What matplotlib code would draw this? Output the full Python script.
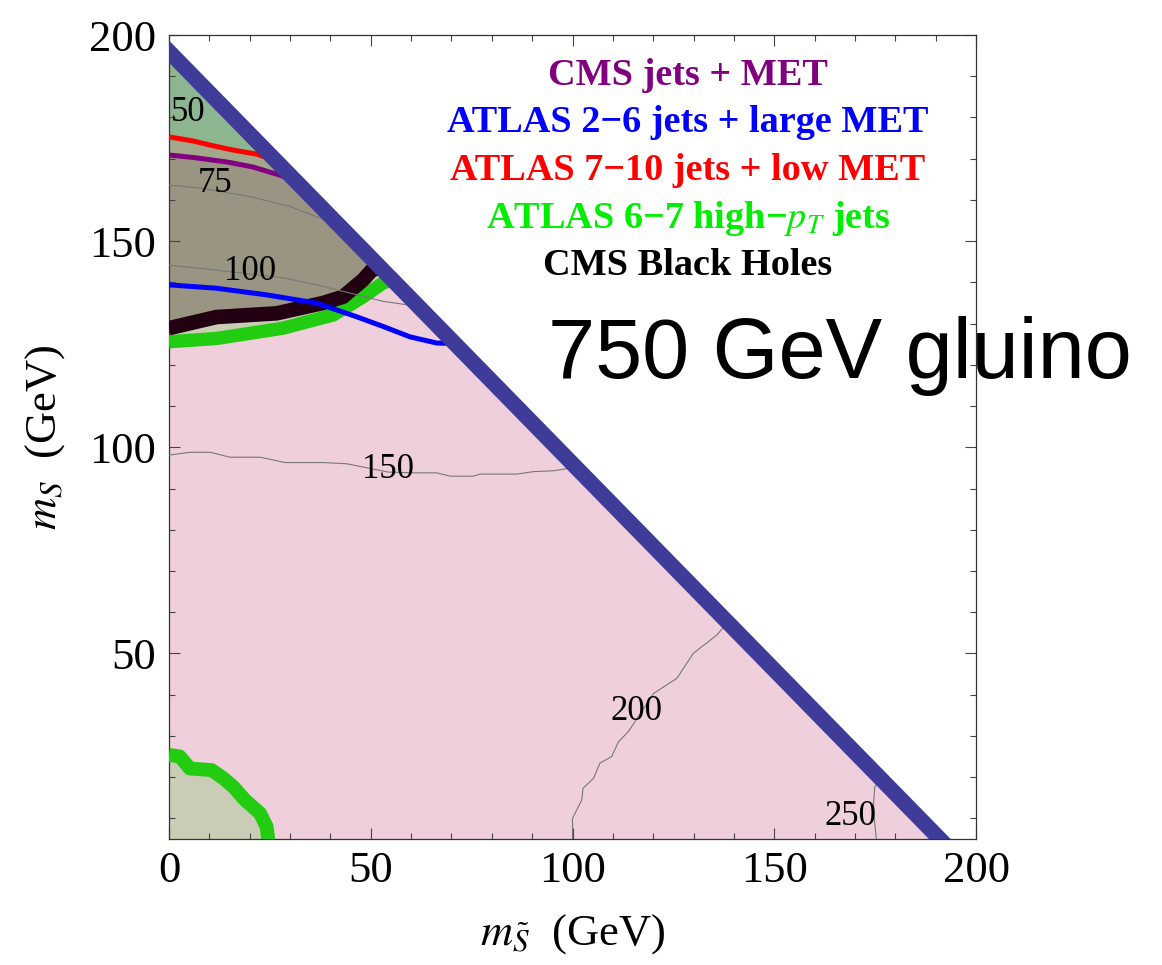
import matplotlib
matplotlib.use("Agg")
import matplotlib.pyplot as plt
from matplotlib import font_manager

plt.rcParams['mathtext.fontset'] = 'stix'
plt.rcParams['font.family'] = ['Liberation Serif', 'DejaVu Serif']

# kinematic edge (m_Stilde + m_S limit)
edge_x = [0, 191]
edge_y = [196, 5]

# exclusion curves
red_x = [0, 6, 10.2, 15.9, 21.8, 23.5]
red_y = [175.3, 174.3, 173.3, 172.1, 171.1, 170.5]
purple_x = [0, 6, 14.4, 20.8, 27.5, 29]
purple_y = [170.9, 170.3, 169.2, 168.0, 166.0, 165.5]
bh_x = [0, 11.8, 26.7, 38.2, 43.1, 48.1, 50.3, 52]
bh_y = [128.9, 131.6, 132.5, 135.0, 136.5, 140.6, 143.0, 143.5]
green_x = [0, 11.8, 28.3, 40.7, 48.1, 53.1, 55]
green_y = [125.6, 126.4, 128.9, 132.1, 136.5, 139.9, 140.5]
blue_x = [0, 11.6, 24, 36.5, 46.4, 53.1, 59.7, 66.3, 69.5]
blue_y = [139.4, 138.6, 137.0, 135.0, 131.7, 129.3, 126.8, 125.3, 125.2]
green_low_x = [0, 2.7, 5.2, 10.6, 13.5, 15.9, 18.8, 22.6, 24.2, 24.6, 24.8]
green_low_y = [25.4, 25.0, 22.1, 21.7, 19.7, 17.7, 14.5, 11.2, 8.0, 5.0, 2.0]

# gluino mass contours
c75_x = [0, 7.7, 20.1, 30, 36.6, 38.5]
c75_y = [163.6, 162.9, 160.8, 158.4, 155.9, 155.3]
c100_x = [0, 7.7, 15.2, 28.3, 36.6, 44.9, 53.1, 59.5]
c100_y = [144.2, 143.4, 142.6, 141.1, 139.4, 137.4, 135.4, 134.5]
c150_x = [0, 5.2, 10.2, 15.1, 22.6, 28.8, 38.2, 44.1, 54.3, 60.6, 66.4, 69.7, 75.4, 77.1, 86.2, 90.3, 95.2, 98.5]
c150_y = [98.1, 98.8, 98.8, 97.6, 97.6, 96.3, 96.3, 96.0, 94.0, 93.8, 93.8, 93.0, 93.0, 93.5, 93.5, 94.1, 94.3, 94.8]
c200_x = [100.0, 100.0, 102.3, 102.6, 105.2, 106.8, 109.7, 111.4, 113.8, 120.1, 125.9, 129.9, 135.8, 137.5]
c200_y = [4.0, 10.0, 14.5, 17.3, 19.7, 23.4, 25.0, 28.6, 31.0, 40.3, 44.0, 50.0, 54.5, 56.5]
c250_x = [175.4, 174.8, 174.6, 174.9, 175.6]
c250_y = [4.0, 9.6, 13.7, 17.7, 18.5]

contour_labels = ["50", "75", "100", "150", "200", "250"]
contour_lab_x = [4.7, 11.4, 20.1, 54.3, 115.9, 168.8]
contour_lab_y = [181.1, 164.0, 142.6, 94.5, 35.9, 10.4]

legend_texts = ["CMS jets + MET", "ATLAS 2\u22126 jets + large MET",
                "ATLAS 7\u221210 jets + low MET",
                "ATLAS 6\u22127 high\u2212$p_T$ jets", "CMS Black Holes"]
legend_colors = ["#800080", "#0000ff", "#ff0000", "#00ee00", "#000000"]

fig = plt.figure(figsize=(11.62, 9.65), dpi=100)
ax = fig.add_axes([0.1454, 0.1306, 0.6946, 0.8331])

# shaded regions
ax.fill_between(edge_x, edge_y[1], edge_y, color="#f0cfdd", lw=0, zorder=1)
ax.fill(green_x + [0], green_y + [edge_y[0]], color="#c9cdb6", lw=0, zorder=1.1)
ax.fill(bh_x + [0], bh_y + [edge_y[0]], color="#9a9482", lw=0, zorder=1.2)
ax.fill(purple_x + [0], purple_y + [edge_y[0]], color="#a4a88a", lw=0, zorder=1.3)
ax.fill(red_x + [0], red_y + [edge_y[0]], color="#8db690", lw=0, zorder=1.4)
ax.fill(green_low_x + [0], green_low_y + [edge_y[1]], color="#cacdb5", lw=0, zorder=1.1)

# exclusion lines
kw = dict(solid_capstyle="butt", solid_joinstyle="round")
ax.plot(green_x, green_y, color="#22cc11", lw=9.6, zorder=3, **kw)
ax.plot(green_low_x, green_low_y, color="#22cc11", lw=10, zorder=3, **kw)
ax.plot(bh_x, bh_y, color="#220011", lw=10.5, zorder=3.1, **kw)
ax.plot(blue_x, blue_y, color="#0000ff", lw=3.6, zorder=3.2, **kw)
ax.plot(red_x, red_y, color="#ff0000", lw=3.6, zorder=3.2, **kw)
ax.plot(purple_x, purple_y, color="#800080", lw=3.6, zorder=3.2, **kw)

# gluino mass contours
for cx, cy in [(c75_x, c75_y), (c100_x, c100_y), (c150_x, c150_y),
               (c200_x, c200_y), (c250_x, c250_y)]:
    ax.plot(cx, cy, color="#777777", lw=0.8, zorder=3.5)
for lab, lx, ly in zip(contour_labels, contour_lab_x, contour_lab_y):
    ax.text(lx, ly, lab, fontsize=25, ha="center", va="center", zorder=5)

# kinematic edge
ax.axline((edge_x[0], edge_y[0]), (edge_x[1], edge_y[1]), color="#3f3b98",
          lw=11.2, zorder=4)

ax.set_xlim(0, 200)
ax.set_ylim(5, 200)
ax.set_xticks([0, 50, 100, 150, 200])
ax.set_yticks([50, 100, 150, 200])
ax.set_xticks(range(0, 201, 10), minor=True)
ax.set_yticks(range(10, 201, 10), minor=True)
ax.tick_params(which="both", direction="in", top=True, right=True,
               labelsize=32, color="#444444", width=0.8)
ax.tick_params(which="major", length=8, pad=9)
ax.tick_params(which="minor", length=4.3)
for s in ax.spines.values():
    s.set_linewidth(0.9)
    s.set_color("#333333")

ax.set_xlabel(r"$m_{\tilde{S}}$  (GeV)", fontsize=32, labelpad=15)
ax.set_ylabel(r"$m_S$  (GeV)", fontsize=32, labelpad=16)

leg_y = [0.938, 0.880, 0.820, 0.760, 0.701]
for txt, col, yy in zip(legend_texts, legend_colors, leg_y):
    ax.text(0.643, yy, txt, transform=ax.transAxes, color=col, fontsize=27.5,
            fontweight="bold", ha="center", va="baseline", zorder=6)

names = {f.name for f in font_manager.fontManager.ttflist}
if "Liberation Sans Narrow" in names:
    gl_fam, gl_size = ["Liberation Sans Narrow"], 74
else:
    gl_fam, gl_size = ["Liberation Sans", "DejaVu Sans"], 61
fig.text(0.4716, 0.6083, "750 GeV gluino", family=gl_fam, fontsize=gl_size,
         ha="left", va="baseline")

fig.savefig("out.png", dpi=100)
